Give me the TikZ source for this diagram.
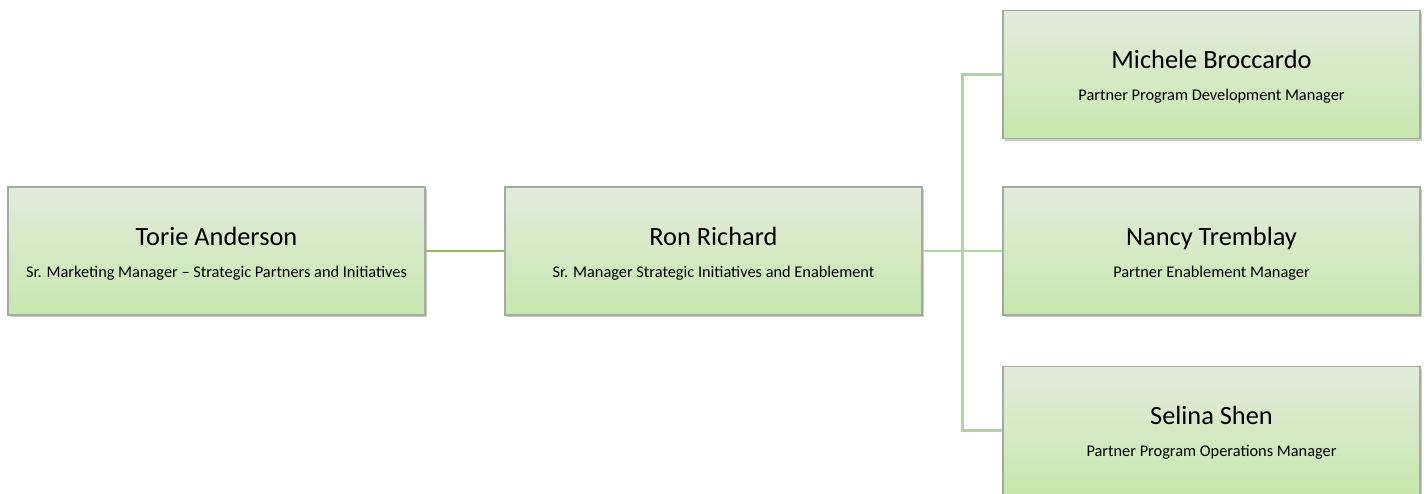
\documentclass[tikz,border=0pt]{standalone}
\usepackage{fontspec}
\setmainfont{Carlito}
\usetikzlibrary{shadows}
\definecolor{boxtop}{HTML}{E3EBDC}
\definecolor{boxbottom}{HTML}{C6E8AE}
\definecolor{boxline}{HTML}{A3AC9E}
\definecolor{linkdark}{HTML}{8CBB5C}
\definecolor{linklight}{HTML}{B3D3A1}
\tikzset{
	orgbox/.style={draw=boxline, line width=0.6pt, top color=boxtop, bottom color=boxbottom,
		minimum width=8.34cm, minimum height=2.56cm, inner sep=0pt,
		drop shadow={shadow xshift=0.04cm, shadow yshift=-0.04cm, opacity=0.35, fill=black!60}},
	namelabel/.style={font=\fontsize{15}{16}\selectfont, inner sep=0pt, anchor=base},
	rolelabel/.style={font=\fontsize{9.3}{10}\selectfont, inner sep=0pt, anchor=base},
	link/.style={line width=1.7pt, draw=linklight}
}
\begin{document}
\begin{tikzpicture}
		\useasboundingbox (0, 0) rectangle (28.54, 9.86);
		% boxes
		\node[orgbox] (torie) at (4.33, 4.84) {};
		\node[orgbox] (ron) at (14.27, 4.84) {};
		\node[orgbox] (michele) at (24.23, 8.37) {};
		\node[orgbox] (nancy) at (24.23, 4.84) {};
		\node[orgbox] (selina) at (24.23, 1.25) {};
		% texts
		\node[namelabel] (torieName) at ([yshift=0.12cm]torie.center) {Torie Anderson};
		\node[rolelabel] (torieRole) at ([yshift=-0.52cm]torie.center) {Sr. Marketing Manager – Strategic Partners and Initiatives};
		\node[namelabel] (ronName) at ([yshift=0.12cm]ron.center) {Ron Richard};
		\node[rolelabel] (ronRole) at ([yshift=-0.52cm]ron.center) {Sr. Manager Strategic Initiatives and Enablement};
		\node[namelabel] (micheleName) at ([yshift=0.12cm]michele.center) {Michele Broccardo};
		\node[rolelabel] (micheleRole) at ([yshift=-0.52cm]michele.center) {Partner Program Development Manager};
		\node[namelabel] (nancyName) at ([yshift=0.12cm]nancy.center) {Nancy Tremblay};
		\node[rolelabel] (nancyRole) at ([yshift=-0.52cm]nancy.center) {Partner Enablement Manager};
		\node[namelabel] (selinaName) at ([yshift=0.12cm]selina.center) {Selina Shen};
		\node[rolelabel] (selinaRole) at ([yshift=-0.52cm]selina.center) {Partner Program Operations Manager};
		% connectors
		\coordinate (bus) at (19.24, 0);
		\path[link, draw=linkdark] (torie.east) -- (ron.west);
		\path[link] (ron.east) -- (nancy.west);
		\path[link] (michele.west) -- (michele.west -| bus) -- (selina.west -| bus) -- (selina.west);
\end{tikzpicture}
\end{document}
